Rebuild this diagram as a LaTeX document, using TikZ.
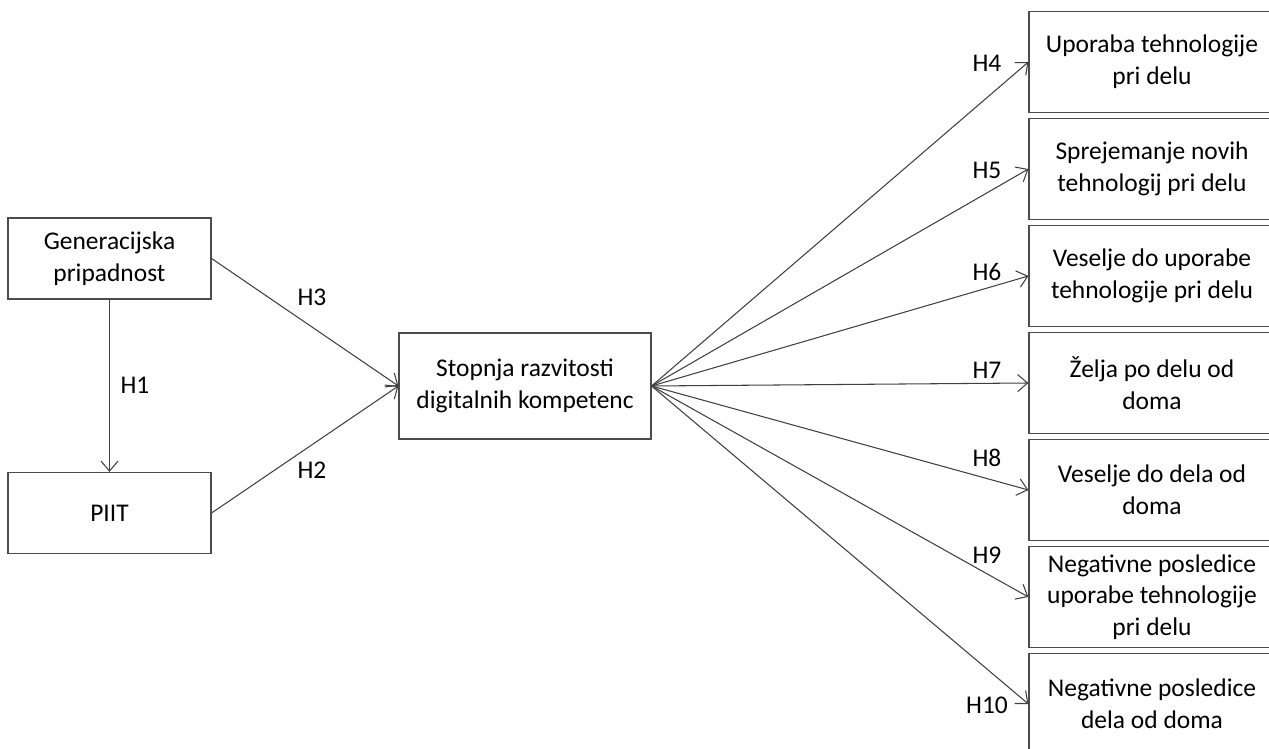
\documentclass[tikz,border=0pt]{standalone}
\usepackage{fontspec}
\setmainfont{Carlito}
\usetikzlibrary{calc}
\usetikzlibrary{arrows.meta}

\begin{document}
\begin{tikzpicture}[x=0.02cm,y=-0.02cm,
  box/.style={draw=black!70, line width=0.7pt, align=center, inner sep=0pt,
    font=\fontsize{14.5}{18}\selectfont},
  vir/.style={box, minimum width=4.06cm, minimum height=1.62cm},
  cilj/.style={box, minimum width=4.92cm, minimum height=2.02cm},
  hyp/.style={font=\fontsize{14.5}{18}\selectfont},
  pot/.style={draw=black!75, line width=0.6pt, -{Straight Barb[length=2mm,width=3.4mm]}}]
\useasboundingbox (0,0) rectangle (1269,749);

\node[vir] (gen) at (109.5,258.5) {Generacijska\\pripadnost};
\node[vir] (piit) at (109.5,513) {PIIT};
\node[box, minimum width=5.04cm, minimum height=2.12cm] (sdk) at (525,386)
  {Stopnja razvitosti\\digitalnih kompetenc};

\node[cilj] (c4) at (1152,62) {Uporaba tehnologije\\pri delu};
\node[cilj] (c5) at (1152,169) {Sprejemanje novih\\tehnologij pri delu};
\node[cilj] (c6) at (1152,276) {Veselje do uporabe\\tehnologije pri delu};
\node[cilj] (c7) at (1152,383) {Želja po delu od\\doma};
\node[cilj] (c8) at (1152,490) {Veselje do dela od\\doma};
\node[cilj] (c9) at (1152,597) {Negativne posledice\\uporabe tehnologije\\pri delu};
\node[cilj] (c10) at (1152,704) {Negativne posledice\\dela od doma};

\draw[pot] (gen) -- (piit);
\draw[pot] (gen.east) -- (sdk.west);
\draw[pot] (piit.east) -- (sdk.west);
\foreach \i in {4,...,10}
  \draw[pot] (sdk.east) -- (c\i.west);

% oznake hipotez
\node[hyp] (h1) at (135,385) {H1};
\node[hyp] (h2) at (312,470) {H2};
\node[hyp] (h3) at (312,297) {H3};
\node[hyp] (h4) at (987,63) {H4};
\node[hyp] (h5) at (987,170) {H5};
\node[hyp] (h6) at (987,272) {H6};
\node[hyp] (h7) at (987,370) {H7};
\node[hyp] (h8) at (987,458) {H8};
\node[hyp] (h9) at (987,555) {H9};
\node[hyp] (h10) at (987,705) {H10};
\end{tikzpicture}
\end{document}
